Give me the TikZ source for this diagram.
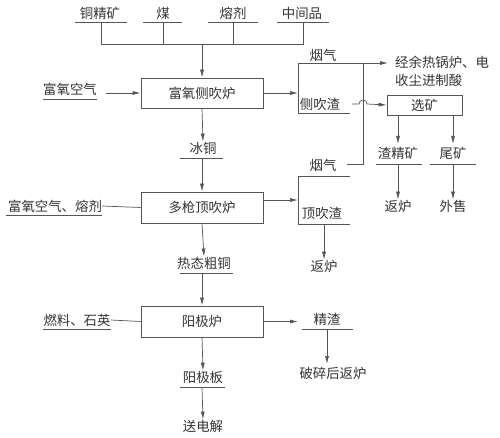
\documentclass[tikz,border=0pt]{standalone}
\usepackage{fontspec}
\setmainfont{Noto Sans CJK SC}
\usetikzlibrary{arrows.meta}
\definecolor{ln}{HTML}{555555}
\definecolor{tx}{HTML}{333333}
\begin{document}
\begin{tikzpicture}[x=1pt,y=-1pt,
  lbl/.style={font=\fontsize{13.4}{15}\selectfont, inner sep=0pt, text=tx},
  proc/.style={draw=ln, line width=0.8pt, font=\fontsize{13.4}{15}\selectfont, text=tx, inner sep=0pt},
  wire/.style={draw=ln, line width=0.7pt},
  arr/.style={wire, -{Latex[length=8pt,width=4pt]}}]
\useasboundingbox (0,0) rectangle (500,438);

% top raw materials
\node[lbl] (tjk) at (100,13) {铜精矿};
\node[lbl] (mei) at (163,13) {煤};
\node[lbl] (rj)  at (233,13) {熔剂};
\node[lbl] (zjp) at (302,13) {中间品};
\draw[wire] (75,22) -- (127,22);
\draw[wire] (143,22) -- (182,22);
\draw[wire] (208,22) -- (258,22);
\draw[wire] (277,22) -- (329,22);
\coordinate (j1) at (101,44);
\coordinate (j4) at (303,44);
\coordinate (jm) at (202,44);
\draw[wire] (101,22) -- (j1) -- (j4) -- (303,22);
\draw[wire] (163,22) -- (163,44);
\draw[wire] (233,22) -- (233,44);

% box 1
\node[proc, minimum width=122pt, minimum height=30pt] (b1) at (202,93) {富氧侧吹炉};
\draw[arr] (jm) -- (b1.north);
\node[lbl] (fyk) at (70,89) {富氧空气};
\draw[wire] (43,99) -- (97,99);
\coordinate (fyke) at (106,93);
\draw[arr] (fyke) -- (b1.west);

% right of box 1
\coordinate (br1) at (298,93);
\draw[arr] (b1.east) -- (br1);
\node[lbl] (yq1) at (323,55) {烟气};
\node[lbl] (cch) at (320,104) {侧吹渣};
\coordinate (yqa) at (388,63);
\draw[wire] (298,113) -- (298,63);
\draw[arr] (298,63) -- (yqa);
\draw[wire] (298,113) -- (350,113);
\node[lbl, anchor=west] (yr1) at (395,62) {经余热锅炉、电};
\node[lbl, anchor=west] (yr2) at (395,80) {收尘进制酸};
\node[proc, minimum width=75pt, minimum height=20pt] (xk) at (424.5,105) {选矿};
\coordinate (vtop) at (363,63);
\coordinate (vbot) at (363,164);
\draw[wire] (vtop) -- (vbot) -- (347,164);
\draw[arr] (352,104) -- (359,104) arc[start angle=180, end angle=360, radius=4] -- (xk.west);

% 选矿 outputs
\node[lbl] (zjk) at (398,153) {渣精矿};
\node[lbl] (wk)  at (453,153) {尾矿};
\draw[arr] (398,115) -- (398,144);
\draw[arr] (453,115) -- (453,144);
\draw[wire] (376,164) -- (422,164);
\draw[wire] (430,164) -- (476,164);
\node[lbl] (fl1) at (398,206) {返炉};
\node[lbl] (ws)  at (453,206) {外售};
\draw[arr] (398,164) -- (fl1.north);
\draw[arr] (453,164) -- (ws.north);

% 冰铜
\node[lbl] (bt) at (203,148) {冰铜};
\draw[arr] (b1.south) -- (bt.north);
\draw[wire] (180,158) -- (223,158);

% box 2
\node[proc, minimum width=122pt, minimum height=31pt] (b2) at (202,207.5) {多枪顶吹炉};
\draw[arr] (202,158) -- (b2.north);
\node[lbl] (fyr) at (55,206) {富氧空气、熔剂};
\draw[wire] (6,215) -- (102,215);
\draw[wire] (fyr.east) -- (b2.west);

% right of box 2
\coordinate (br2) at (298,200);
\draw[arr] (263,200) -- (br2);
\node[lbl] (yq2) at (323,165) {烟气};
\node[lbl] (dch) at (322,213) {顶吹渣};
\draw[wire] (350,176) -- (298,176) -- (298,224) -- (350,224);
\node[lbl] (fl2) at (324,266) {返炉};
\draw[arr] (324,224) -- (fl2.north);

% 热态粗铜
\node[lbl] (rtc) at (204,263) {热态粗铜};
\draw[arr] (b2.south) -- (rtc.north);
\draw[wire] (180,273) -- (233,273);

% box 3
\node[proc, minimum width=122pt, minimum height=31pt] (b3) at (202,321.5) {阳极炉};
\draw[arr] (202,273) -- (b3.north);
\node[lbl] (rls) at (77,320) {燃料、石英};
\draw[wire] (43,329) -- (111,329);
\draw[wire] (rls.east) -- (b3.west);

% right of box 3
\node[lbl] (jz) at (327,319) {精渣};
\draw[arr] (b3.east) -- (298,321.5);
\draw[wire] (302,329) -- (353,329);
\node[lbl] (psf) at (333,373) {破碎后返炉};
\draw[arr] (327,329) -- (327,364);

% 阳极板
\node[lbl] (yjb) at (203,377) {阳极板};
\draw[arr] (b3.south) -- (yjb.north);
\draw[wire] (180,387) -- (225,387);
\node[lbl] (sdj) at (203,426) {送电解};
\draw[arr] (202,387) -- (sdj.north);
\end{tikzpicture}
\end{document}
